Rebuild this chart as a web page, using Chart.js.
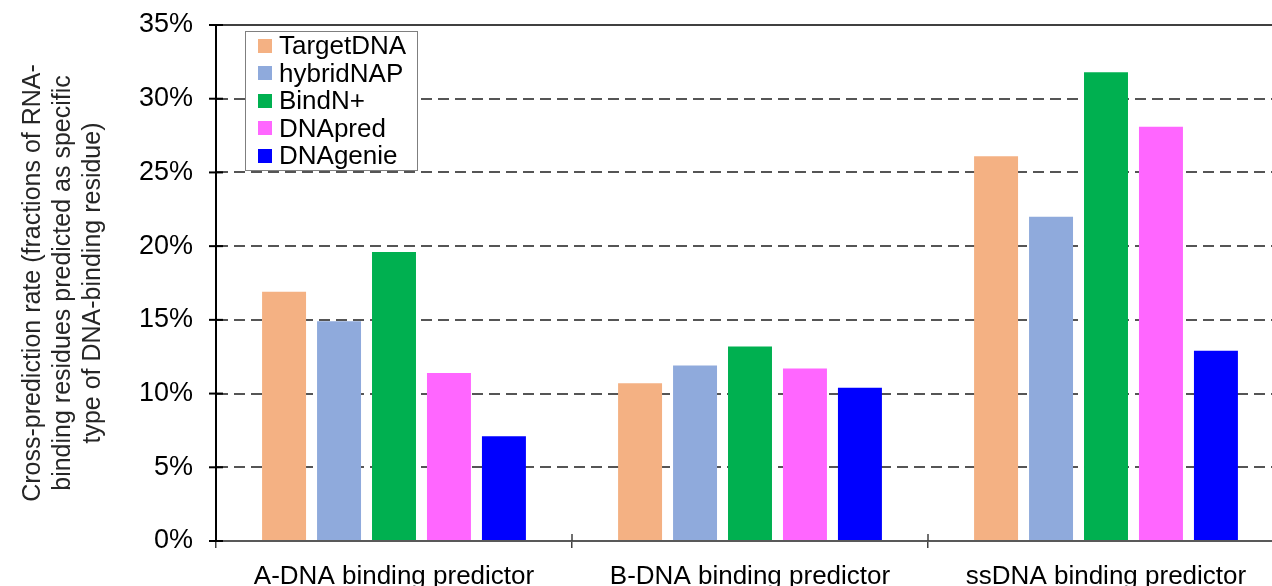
<!DOCTYPE html>
<html>
<head>
<meta charset="utf-8">
<script src="https://cdn.jsdelivr.net/npm/chart.js@4.4.1/dist/chart.umd.min.js"></script>
<style>
    html, body { margin: 0; padding: 0; background: #fff; overflow: hidden; }
    #wrap { position: relative; width: 1300px; height: 600px; }
    #legend {
        position: absolute; left: 245px; top: 31px; width: 171px;
        border: 1px solid #7f7f7f; background: #fff;
        font-family: 'Liberation Sans', Arial, sans-serif; font-size: 26px; color: #000;
    }
    #legend .row { height: 27.5px; line-height: 27.5px; white-space: nowrap; display: flex; align-items: center; }
    #legend .sw { width: 14px; height: 14px; margin-left: 12px; margin-right: 7px; flex: none; }
</style>
</head>
<body>
<div id="wrap">
    <canvas id="chart" width="1300" height="600"></canvas>
    <div id="legend"></div>
</div>
<script>
// Catégories et séries (valeurs en %)
const categories = ['A-DNA binding predictor', 'B-DNA binding predictor', 'ssDNA binding predictor'];
const seriesNames = ['TargetDNA', 'hybridNAP', 'BindN+', 'DNApred', 'DNAgenie'];
const seriesColors = ['#F4B183', '#8FAADC', '#00B050', '#FF66FF', '#0000FF'];

const targetDNA = [16.9, 10.7, 26.1];
const hybridNAP = [14.9, 11.9, 22.0];
const bindNPlus = [19.6, 13.2, 31.8];
const dnaPred = [11.4, 11.7, 28.1];
const dnaGenie = [7.1, 10.4, 12.9];

const yTickLabels = ['0%', '5%', '10%', '15%', '20%', '25%', '30%', '35%'];
const yTitle = ['Cross-prediction rate (fractions of RNA-', 'binding residues predicted as specific', 'type of DNA-binding residue)'];

const seriesValues = [targetDNA, hybridNAP, bindNPlus, dnaPred, dnaGenie];
const FONT = "'Liberation Sans', Arial, sans-serif";

// Petits traits qui traversent les axes
const crossTicks = {
    id: 'crossTicks',
    afterDraw(chart) {
        const { ctx, chartArea, scales: { x, y } } = chart;
        ctx.save();
        ctx.strokeStyle = '#000';
        ctx.lineWidth = 2;
        y.ticks.forEach((t, i) => {
            const py = y.getPixelForTick(i);
            ctx.beginPath();
            ctx.moveTo(chartArea.left - 7, py);
            ctx.lineTo(chartArea.left + 7, py);
            ctx.stroke();
        });
        ctx.strokeStyle = '#404040';
        ctx.lineWidth = 1.5;
        for (let i = 1; i < categories.length; i++) {
            const px = (x.getPixelForValue(i - 1) + x.getPixelForValue(i)) / 2;
            ctx.beginPath();
            ctx.moveTo(px, chartArea.bottom - 7);
            ctx.lineTo(px, chartArea.bottom);
            ctx.stroke();
        }
        ctx.restore();
    }
};

new Chart(document.getElementById('chart'), {
    type: 'bar',
    data: {
        labels: categories,
        datasets: seriesNames.map((name, i) => ({
            label: name,
            data: seriesValues[i],
            backgroundColor: seriesColors[i],
            categoryPercentage: 0.772,
            barPercentage: 0.8
        }))
    },
    options: {
        responsive: false,
        animation: false,
        layout: { padding: { top: 25, right: 16, left: 0, bottom: 0 } },
        plugins: {
            legend: { display: false },
            tooltip: { enabled: false }
        },
        scales: {
            x: {
                z: 1,
                afterFit: s => { s.height = 59; },
                grid: { display: true, drawOnChartArea: false, offset: true, tickLength: 7, color: '#404040', lineWidth: 1.5 },
                border: { display: true, color: '#595959', width: 2 },
                ticks: { color: '#000', padding: 13, font: { family: FONT, size: 26 }, maxRotation: 0 }
            },
            y: {
                min: 0,
                max: 35,
                afterFit: s => { s.width = 216; },
                ticks: {
                    stepSize: 5,
                    padding: 4,
                    color: '#000',
                    font: { family: FONT, size: 27 },
                    callback: (v, i) => yTickLabels[i]
                },
                grid: {
                    tickLength: 19,
                    tickColor: 'rgba(0,0,0,0)',
                    lineWidth: 2,
                    color: c => (c.tick && c.tick.value === 0) ? 'rgba(0,0,0,0)' : (c.tick && c.tick.value === 35 ? '#404040' : '#555555')
                },
                border: {
                    display: true, color: '#000', width: 2,
                    dash: c => (c.tick && c.tick.value === 35) ? [] : [11, 6]
                },
                title: {
                    display: true,
                    text: yTitle,
                    color: '#262626',
                    padding: { top: 18, bottom: 0 },
                    font: { family: FONT, size: 25, lineHeight: 1.2 }
                }
            }
        }
    },
    plugins: [crossTicks]
});

// Légende HTML
const legendBox = document.getElementById('legend');
seriesNames.forEach((name, i) => {
    const row = document.createElement('div');
    row.className = 'row';
    row.innerHTML = `<span class="sw" style="background:${seriesColors[i]}"></span><span>${name}</span>`;
    legendBox.appendChild(row);
});
</script>
</body>
</html>
